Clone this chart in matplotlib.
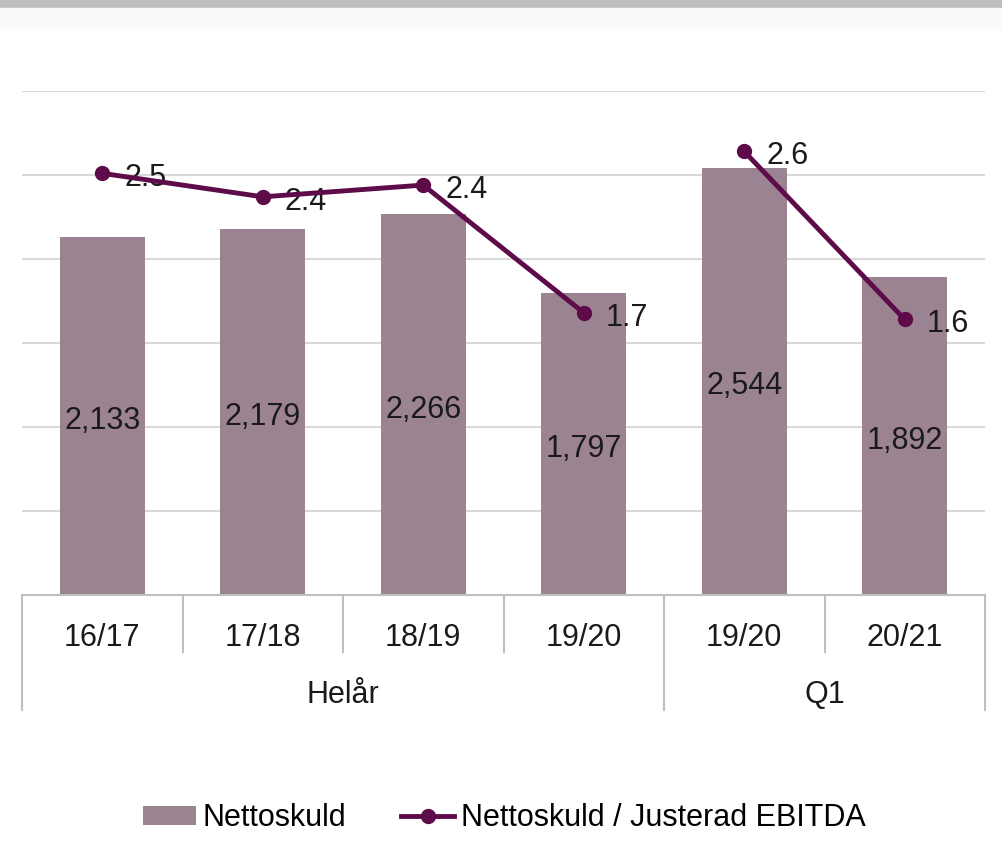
import matplotlib
matplotlib.use("Agg")
import matplotlib.pyplot as plt
import matplotlib.transforms as mtransforms
from matplotlib.patches import Rectangle
import numpy as np

plt.rcParams['font.family'] = ['Liberation Sans', 'DejaVu Sans']

# data
periods = ['16/17', '17/18', '18/19', '19/20', '19/20', '20/21']
groups = ['Helår', 'Q1']
group_sizes = [4, 2]
netto_skuld = [2133, 2179, 2266, 1797, 2544, 1892]
skuld_ebitda = [2.51, 2.37, 2.44, 1.68, 2.64, 1.64]

BAR_COLOR = '#9C8392'
LINE_COLOR = '#5E0B4A'
GRID_COLOR = '#D9D9D9'
AXIS_COLOR = '#BFBFBF'
TEXT_COLOR = '#1a1a1a'

fig = plt.figure(figsize=(10.02, 8.55), dpi=100)

# header bands (cut-off slide title)
fig.patches.append(Rectangle((0, 1 - 8 / 855), 1, 8 / 855, transform=fig.transFigure,
                             color='#BEBEBE', zorder=0))
fig.patches.append(Rectangle((0, 1 - 28 / 855), 1, 20 / 855, transform=fig.transFigure,
                             color='#FAFAFA', zorder=0))

ax = fig.add_axes([22 / 1002, 1 - 595 / 855, 963 / 1002, 504 / 855])
ax2 = ax.twinx()
x = np.arange(len(periods))

ax.bar(x, netto_skuld, width=0.53, color=BAR_COLOR, zorder=2, label='Nettoskuld')
ax.set_xlim(-0.5, len(periods) - 0.5)
ax.set_ylim(0, 3000)
ax.set_yticks(np.arange(500, 3001, 500))
ax.yaxis.grid(True, color=GRID_COLOR, linewidth=1.5, zorder=0)
ax.set_axisbelow(True)
ax.tick_params(left=False, labelleft=False, right=False, labelright=False,
               bottom=False, labelbottom=False)
for s in ['left', 'right', 'top']:
    ax.spines[s].set_visible(False)
ax.spines['bottom'].set_color(AXIS_COLOR)
ax.spines['bottom'].set_linewidth(1.5)

for xi, v in zip(x, netto_skuld):
    ax.annotate(f'{v:,}', (xi, v / 2), xytext=(0, -5), textcoords='offset pixels',
                ha='center', va='center', fontsize=22, color=TEXT_COLOR, zorder=3)

# category axis with two levels
trans = mtransforms.blended_transform_factory(ax.transData, ax.transAxes)
bounds = np.cumsum([0] + group_sizes) - 0.5
for b in np.arange(-0.5, len(periods)):
    low = -0.228 if b in bounds else -0.113
    ax.plot([b, b], [0, low], transform=trans, color=AXIS_COLOR, lw=1.5, clip_on=False)
for xi, lab in zip(x, periods):
    ax.text(xi, -0.085, lab, transform=trans, ha='center', va='center', fontsize=22, color=TEXT_COLOR)
for i, g in enumerate(groups):
    ax.text((bounds[i] + bounds[i + 1]) / 2, -0.198, g, transform=trans,
            ha='center', va='center', fontsize=22, color=TEXT_COLOR)

# ratio line, broken between the groups
ax2.set_ylim(0, 3.0)
start = 0
for i, n in enumerate(group_sizes):
    seg = slice(start, start + n)
    ax2.plot(x[seg], skuld_ebitda[seg], color=LINE_COLOR, lw=3.5, marker='o', markersize=10,
             zorder=4, label='Nettoskuld / Justerad EBITDA' if i == 0 else None)
    start += n
ax2.axis('off')
for xi, v in zip(x, skuld_ebitda):
    ax2.annotate(f'{v:.1f}', (xi, v), xytext=(22, -5), textcoords='offset pixels',
                 ha='left', va='center', fontsize=22, color=TEXT_COLOR)

h1, l1 = ax.get_legend_handles_labels()
h2, l2 = ax2.get_legend_handles_labels()
fig.legend(h1 + h2, l1 + l2, loc='center', bbox_to_anchor=(0.503, 1 - 818 / 855), ncol=2,
           frameon=False, fontsize=22, handlelength=1.75, handletextpad=0.2,
           columnspacing=1.8, handleheight=0.6)

fig.savefig('out.png', dpi=100, facecolor='white')
